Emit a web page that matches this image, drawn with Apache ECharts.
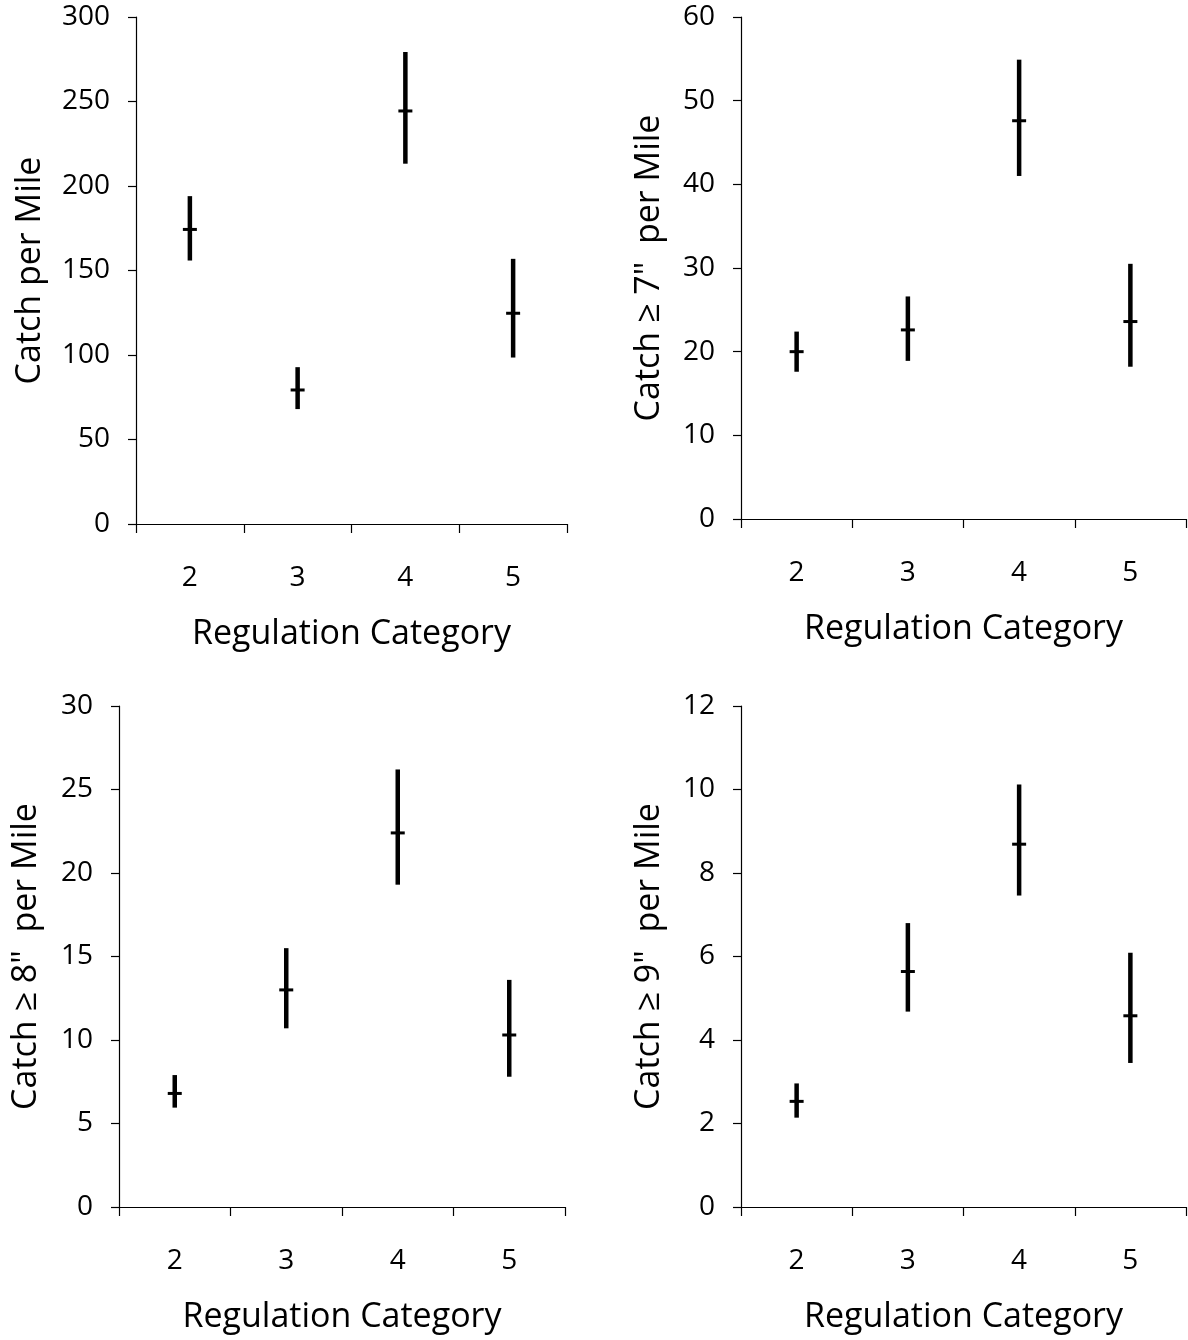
<!DOCTYPE html>
<html>
<head>
<meta charset="utf-8">
<script src="https://cdn.jsdelivr.net/npm/echarts@6/dist/echarts.min.js"></script>
<style>
html,body{margin:0;padding:0;background:#fff;}
#chart{width:1188px;height:1340px;}
</style>
</head>
<body>
<div id="chart"></div>
<script>
// ---- Data ----
const categories = ['2', '3', '4', '5'];

const catchMean = [174.3, 79.3, 244.4, 124.7];
const catchLow  = [155.9, 68.0, 213.2, 98.5];
const catchHigh = [194.0, 92.8, 279.3, 156.9];

const c7Mean = [20.0, 22.6, 47.6, 23.6];
const c7Low  = [17.6, 18.9, 41.0, 18.2];
const c7High = [22.4, 26.6, 54.9, 30.5];

const c8Mean = [6.8, 13.0, 22.4, 10.3];
const c8Low  = [5.95, 10.7, 19.3, 7.8];
const c8High = [7.9, 15.5, 26.2, 13.6];

const c9Mean = [2.53, 5.64, 8.69, 4.58];
const c9Low  = [2.14, 4.68, 7.46, 3.45];
const c9High = [2.96, 6.80, 10.12, 6.09];

const yTitles = ['Catch per Mile', 'Catch \u2265 7"  per Mile', 'Catch \u2265 8"  per Mile', 'Catch \u2265 9"  per Mile'];
const xTitle = 'Regulation Category';
const yMax = [300, 60, 30, 12];
const yStep = [50, 10, 5, 2];

// ---- Layout ----
const FONT = 'Open Sans';
const grids = [
  {left: 136, top: 17, width: 431, height: 507},
  {left: 741, top: 17, width: 445, height: 502},
  {left: 119, top: 706, width: 446, height: 501},
  {left: 741, top: 706, width: 445, height: 501}
];
const yNameGap = [89, 75, 76, 75];

const panels = [
  [catchMean, catchLow, catchHigh],
  [c7Mean, c7Low, c7High],
  [c8Mean, c8Low, c8High],
  [c9Mean, c9Low, c9High]
];

function renderItem(params, api) {
  const x = api.value(0), lo = api.value(1), hi = api.value(2), m = api.value(3);
  const pLo = api.coord([x, lo]);
  const pHi = api.coord([x, hi]);
  const pM = api.coord([x, m]);
  return {
    type: 'group',
    children: [
      {type: 'line', shape: {x1: pLo[0], y1: pLo[1], x2: pHi[0], y2: pHi[1]},
       style: {stroke: '#000', lineWidth: 4.5}},
      {type: 'line', shape: {x1: pM[0] - 7, y1: pM[1], x2: pM[0] + 7, y2: pM[1]},
       style: {stroke: '#000', lineWidth: 3}}
    ]
  };
}

const axisLineStyle = {show: true, lineStyle: {color: '#000', width: 1.2}};

const option = {
  backgroundColor: '#fff',
  animation: false,
  grid: grids.map(g => Object.assign({containLabel: false}, g)),
  xAxis: grids.map((g, i) => ({
    type: 'category',
    gridIndex: i,
    data: categories,
    boundaryGap: true,
    axisLine: axisLineStyle,
    axisTick: {show: true, length: 9, inside: false, lineStyle: {color: '#000', width: 1.2}},
    axisLabel: {color: '#000', fontFamily: FONT, fontSize: 28, margin: 40},
    splitLine: {show: false},
    name: xTitle,
    nameLocation: 'middle',
    nameGap: 93,
    nameTextStyle: {color: '#000', fontFamily: FONT, fontSize: 34}
  })),
  yAxis: grids.map((g, i) => ({
    type: 'value',
    gridIndex: i,
    min: 0,
    max: yMax[i],
    interval: yStep[i],
    axisLine: axisLineStyle,
    axisTick: {show: true, length: 8, inside: false, lineStyle: {color: '#000', width: 1.2}},
    axisLabel: {color: '#000', fontFamily: FONT, fontSize: 28, margin: 26},
    splitLine: {show: false},
    name: yTitles[i],
    nameLocation: 'middle',
    nameGap: yNameGap[i],
    nameTextStyle: {color: '#000', fontFamily: FONT, fontSize: 34}
  })),
  series: panels.map((p, i) => ({
    type: 'custom',
    xAxisIndex: i,
    yAxisIndex: i,
    renderItem: renderItem,
    encode: {x: 0, y: [1, 2]},
    data: categories.map((c, k) => [k, p[1][k], p[2][k], p[0][k]])
  }))
};

const chart = echarts.init(document.getElementById('chart'), null, {renderer: 'canvas'});
chart.setOption(option);
</script>
</body>
</html>
